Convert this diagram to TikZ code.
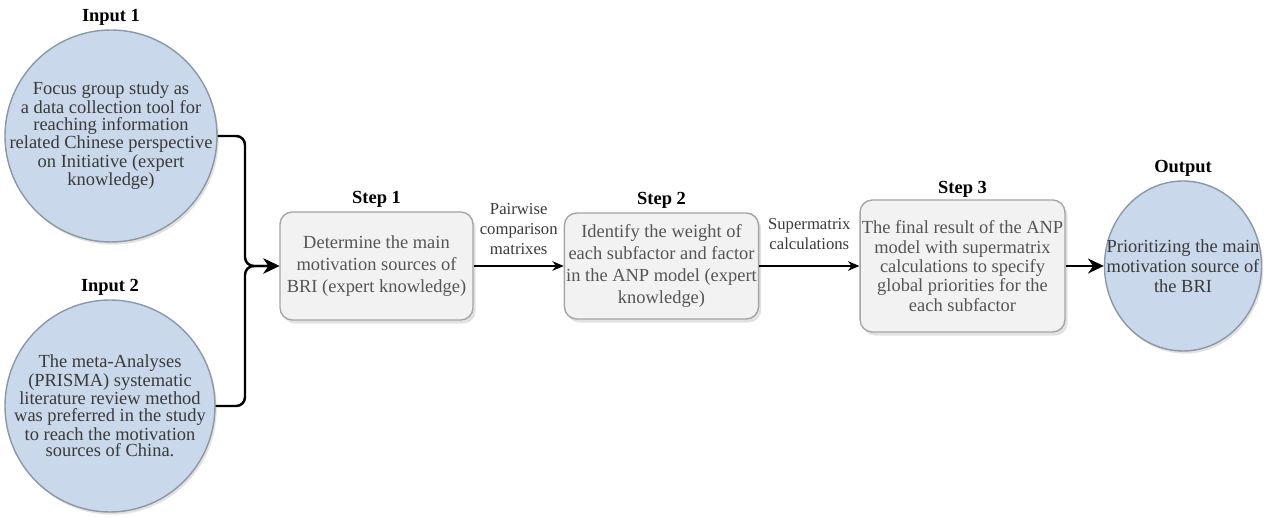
\documentclass[tikz,border=0pt]{standalone}
\usepackage{fontspec}
\setmainfont{Liberation Serif}
\usetikzlibrary{positioning,arrows.meta,shadows,shapes.geometric}
\definecolor{circfill}{RGB}{201,216,234}
\definecolor{circline}{RGB}{140,152,168}
\definecolor{boxfill}{RGB}{242,242,242}
\definecolor{boxline}{RGB}{165,165,165}
\definecolor{circtext}{RGB}{58,58,58}
\definecolor{boxtext}{RGB}{85,85,85}

\begin{document}
\begin{tikzpicture}[
    incirc/.style={ellipse, draw=circline, fill=circfill, line width=0.8pt,
      inner xsep=-1cm, inner ysep=0pt, align=center, text=circtext,
      font=\fontsize{10.5}{9.5}\selectfont,
      drop shadow={shadow xshift=1pt, shadow yshift=-1.5pt, fill=gray!45}},
    stepbox/.style={rectangle, rounded corners=7pt, draw=boxline, fill=boxfill,
      line width=0.8pt, inner sep=1pt, align=center, text=boxtext,
      font=\fontsize{10.5}{12.5}\selectfont,
      drop shadow={shadow xshift=1.5pt, shadow yshift=-2pt, fill=gray!45}},
    head/.style={font=\fontsize{10.5}{12}\selectfont\bfseries, inner sep=1pt},
    edgelbl/.style={font=\fontsize{9.5}{11.5}\selectfont, align=center,
      text=circtext, inner sep=2pt},
    thinarrow/.style={-{Stealth[length=6.5pt,width=5.5pt]}, line width=0.7pt},
    bigarrow/.style={-{Stealth[length=9pt,width=8.5pt]}, line width=1.4pt}
  ]
    \useasboundingbox (0,0) rectangle (25.52,10.34);

    \node[incirc, minimum width=4.24cm, minimum height=4.24cm] (in1) at (2.22,7.62)
      {Focus group study as\\a data collection tool for\\reaching information\\
       related Chinese perspective\\on Initiative (expert\\knowledge)};
    \node[head, above=1pt of in1] (in1lbl) {Input 1};

    \node[incirc, minimum width=4.2cm, minimum height=4.24cm] (in2) at (2.2,2.22)
      {The meta-Analyses\\(PRISMA) systematic\\literature review method\\
       was preferred in the study\\to reach the motivation\\sources of China.};
    \node[head, above=1pt of in2] (in2lbl) {Input 2};

    \node[stepbox, minimum width=3.86cm, minimum height=2.16cm] (step1) at (7.53,5.02)
      {Determine the main\\motivation sources of\\BRI (expert knowledge)};
    \node[head, above=1pt of step1] (step1lbl) {Step 1};

    \node[stepbox, minimum width=3.86cm, minimum height=2.12cm] (step2) at (13.23,5.02)
      {Identify the weight of\\each subfactor and factor\\in the ANP model (expert\\knowledge)};
    \node[head, above=1pt of step2] (step2lbl) {Step 2};

    \node[stepbox, minimum width=4.02cm, minimum height=2.64cm,
      font=\fontsize{10.5}{11}\selectfont] (step3) at (19.25,5.02)
      {The final result of the ANP\\model with supermatrix\\calculations to specify\\
       global priorities for the\\each subfactor};
    \node[head, above=0pt of step3] (step3lbl) {Step 3};

    \node[incirc, minimum width=3.14cm, minimum height=3.4cm,
      font=\fontsize{10.5}{11.3}\selectfont] (out) at (23.66,5.02)
      {Prioritizing the main\\motivation source of\\the BRI};
    \node[head, above=1pt of out] (outlbl) {Output};

    \coordinate (join) at (4.9,5.02);

    \draw[bigarrow, rounded corners=5pt] (in1.east) -| (join) -- (step1.west);
    \draw[bigarrow, rounded corners=5pt] (in2.east) -| (join) -- (step1.west);

    \draw[thinarrow] (step1) -- (step2)
      node[midway, above=4pt, edgelbl] {Pairwise\\comparison\\matrixes};
    \draw[thinarrow] (step2) -- (step3)
      node[midway, above=7pt, edgelbl] {Supermatrix\\calculations};
    \draw[bigarrow] (step3) -- (out);
  \end{tikzpicture}
\end{document}
